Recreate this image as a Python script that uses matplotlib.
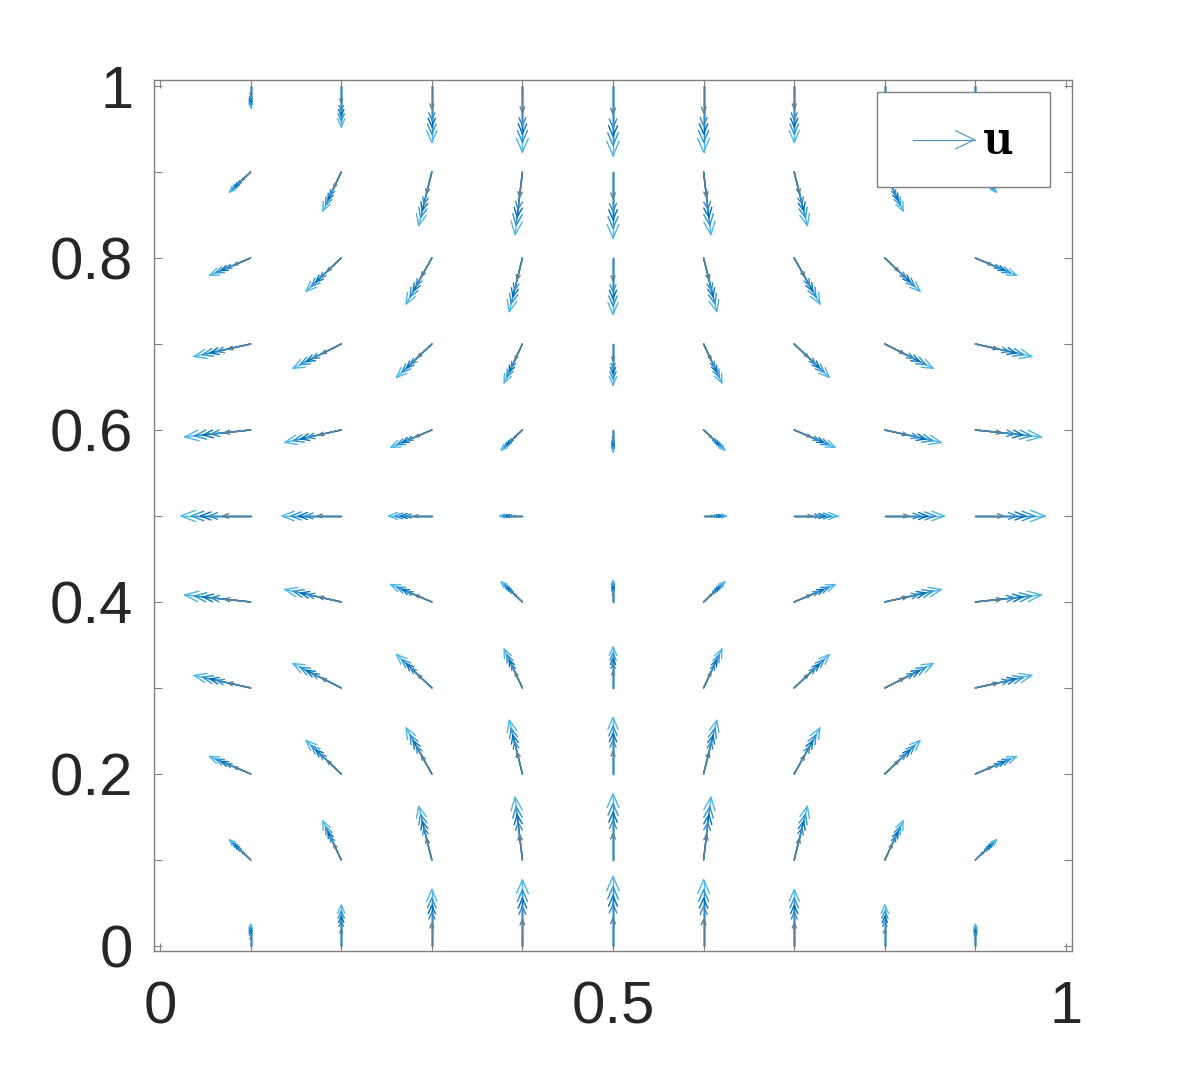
"""
Quiver plot of the velocity field u on the unit square (several overlaid snapshots).
Writes out.png.
"""
import matplotlib
matplotlib.use('Agg')
import matplotlib.pyplot as plt
import numpy as np
from matplotlib.collections import LineCollection
from matplotlib.legend_handler import HandlerBase
from matplotlib.lines import Line2D
from matplotlib.text import Text

plt.rcParams.update({'font.family': ['Liberation Sans', 'DejaVu Sans'],
                     'mathtext.fontset': 'cm'})

# grid points (columns x, rows y)
x_pts = [0.1, 0.2, 0.3, 0.4, 0.5, 0.6, 0.7, 0.8, 0.9]
y_pts = [0.0, 0.1, 0.2, 0.3, 0.4, 0.5, 0.6, 0.7, 0.8, 0.9, 1.0]

# horizontal velocity, one row per y value
u_vals = [
    [0.00, 0.00, 0.00, 0.00, 0.00, 0.00, 0.00, 0.00, 0.00],
    [-0.29, -0.25, -0.18, -0.10, 0.00, 0.10, 0.18, 0.25, 0.29],
    [-0.56, -0.48, -0.35, -0.18, 0.00, 0.18, 0.35, 0.48, 0.56],
    [-0.77, -0.66, -0.48, -0.25, 0.00, 0.25, 0.48, 0.66, 0.77],
    [-0.90, -0.77, -0.56, -0.29, 0.00, 0.29, 0.56, 0.77, 0.90],
    [-0.95, -0.81, -0.59, -0.31, 0.00, 0.31, 0.59, 0.81, 0.95],
    [-0.90, -0.77, -0.56, -0.29, 0.00, 0.29, 0.56, 0.77, 0.90],
    [-0.77, -0.66, -0.48, -0.25, 0.00, 0.25, 0.48, 0.66, 0.77],
    [-0.56, -0.48, -0.35, -0.18, 0.00, 0.18, 0.35, 0.48, 0.56],
    [-0.29, -0.25, -0.18, -0.10, 0.00, 0.10, 0.18, 0.25, 0.29],
    [0.00, 0.00, 0.00, 0.00, 0.00, 0.00, 0.00, 0.00, 0.00],
]
# vertical velocity
v_vals = [
    [0.31, 0.59, 0.81, 0.95, 1.00, 0.95, 0.81, 0.59, 0.31],
    [0.29, 0.56, 0.77, 0.90, 0.95, 0.90, 0.77, 0.56, 0.29],
    [0.25, 0.48, 0.66, 0.77, 0.81, 0.77, 0.66, 0.48, 0.25],
    [0.18, 0.35, 0.48, 0.56, 0.59, 0.56, 0.48, 0.35, 0.18],
    [0.10, 0.18, 0.25, 0.29, 0.31, 0.29, 0.25, 0.18, 0.10],
    [0.00, 0.00, 0.00, 0.00, 0.00, 0.00, 0.00, 0.00, 0.00],
    [-0.10, -0.18, -0.25, -0.29, -0.31, -0.29, -0.25, -0.18, -0.10],
    [-0.18, -0.35, -0.48, -0.56, -0.59, -0.56, -0.48, -0.35, -0.18],
    [-0.25, -0.48, -0.66, -0.77, -0.81, -0.77, -0.66, -0.48, -0.25],
    [-0.29, -0.56, -0.77, -0.90, -0.95, -0.90, -0.77, -0.56, -0.29],
    [-0.31, -0.59, -0.81, -0.95, -1.00, -0.95, -0.81, -0.59, -0.31],
]
# relative amplitude of each overlaid snapshot (longest first)
snap_amp = [1.00, 0.85, 0.72, 0.60, 0.40]
snap_colors = ['#4cb8e8', '#2f95d6', '#0072bd', '#3a8cc0', '#5b8098']

xtick_labels = ['0', '', '', '', '', '0.5', '', '', '', '', '1']
ytick_labels = ['0', '', '0.2', '', '0.4', '', '0.6', '', '0.8', '', '1']
legend_label = r'$\mathbf{u}$'

SCALE = 0.081      # data units per unit velocity (longest snapshot)
HEAD_LEN, HEAD_W = 0.21, 0.085
AX_GREY = '#808080'


def arrow_segments(amp):
    X, Y = np.meshgrid(x_pts, y_pts)
    dx = amp * SCALE * np.asarray(u_vals)
    dy = amp * SCALE * np.asarray(v_vals)
    segs = []
    for x0, y0, ux, vy in zip(X.ravel(), Y.ravel(), dx.ravel(), dy.ravel()):
        if ux == 0 and vy == 0:
            continue
        tx, ty = x0 + ux, y0 + vy
        bx, by = tx - HEAD_LEN * ux, ty - HEAD_LEN * vy
        segs.append([(x0, y0), (tx, ty)])
        segs.append([(bx - HEAD_W * vy, by + HEAD_W * ux), (tx, ty),
                     (bx + HEAD_W * vy, by - HEAD_W * ux)])
    return segs


class HandlerArrowLabel(HandlerBase):
    # MATLAB-style quiver sample (shaft + open V head) followed by the label,
    # both drawn inside the handle box so the padding matches MATLAB's legend
    def create_artists(self, legend, orig_handle, xdescent, ydescent,
                       width, height, fontsize, trans):
        y = height / 2 - ydescent - 3.5
        left = -xdescent
        x0, x1 = left + 9.4, left + 54.0
        hl, hw = 13.5, 6.5
        kw = dict(color=orig_handle.get_color(), lw=0.8, transform=trans)
        txt = Text(left + 59.5, y, legend_label, fontsize=fontsize,
                   ha='left', va='center', color='k', transform=trans)
        return [Line2D([x0, x1], [y, y], **kw),
                Line2D([x1 - hl, x1, x1 - hl], [y + hw, y, y - hw], **kw), txt]


fig = plt.figure(figsize=(11.84, 10.70), dpi=100)
ax = fig.add_axes([0.1301, 0.1112, 0.7753, 0.8140])

for amp, col in zip(snap_amp, snap_colors):
    ax.add_collection(LineCollection(arrow_segments(amp), colors=col,
                                     linewidths=1.0, capstyle='round'))

ax.set_xlim(-0.0066, 1.0066)
ax.set_ylim(-0.006, 1.007)
ax.set_xticks(np.linspace(0, 1, 11))
ax.set_xticklabels(xtick_labels)
ax.set_yticks(np.linspace(0, 1, 11))
ax.set_yticklabels(ytick_labels)
ax.tick_params(direction='in', length=6, width=0.8, color=AX_GREY,
               labelsize=43, labelcolor='#262626', top=True, right=True)
ax.tick_params(axis='x', pad=21)
ax.tick_params(axis='y', pad=15)
for sp in ax.spines.values():
    sp.set_color(AX_GREY)
    sp.set_linewidth(1.0)

proxy = Line2D([], [], color='#4a90bf')
leg = ax.legend([proxy], [''], handler_map={Line2D: HandlerArrowLabel()},
                loc='upper right', bbox_to_anchor=(0.976, 0.986),
                borderaxespad=0, fontsize=38, handlelength=2.43, handletextpad=0,
                borderpad=0.42, fancybox=False, framealpha=1, edgecolor=AX_GREY)
leg.get_frame().set_linewidth(1.0)

fig.savefig('out.png', dpi=100)
